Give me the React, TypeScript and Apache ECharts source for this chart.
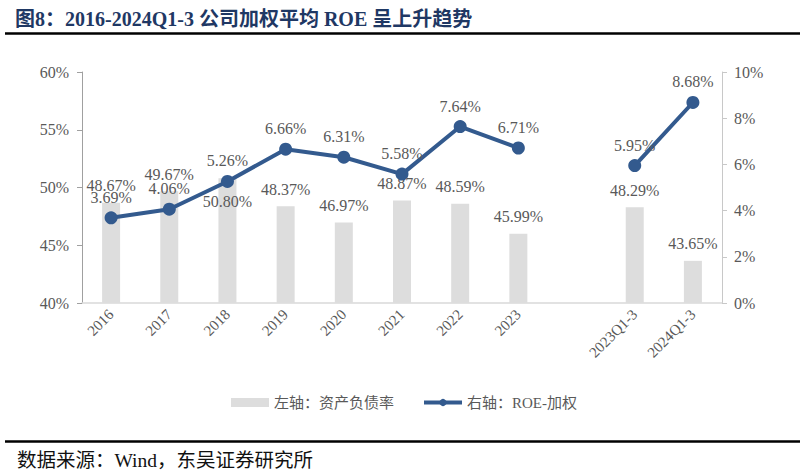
import React, { useEffect, useRef } from "react";
import * as echarts from "echarts";

const categories = ["2016", "2017", "2018", "2019", "2020", "2021", "2022", "2023", "", "2023Q1-3", "2024Q1-3"];
const debtRatio: (number | null)[] = [48.67, 49.67, 50.8, 48.37, 46.97, 48.87, 48.59, 45.99, null, 48.29, 43.65];
const roeWeighted: (number | null)[] = [3.69, 4.06, 5.26, 6.66, 6.31, 5.58, 7.64, 6.71, null, 5.95, 8.68];
const leftAxisRange = [40, 60, 5];
const rightAxisRange = [0, 10, 2];
const seriesNames = ["左轴：资产负债率", "右轴：ROE-加权"];
const titleText = "图8：2016-2024Q1-3 公司加权平均 ROE 呈上升趋势";
const sourceText = "数据来源：Wind，东吴证券研究所";

const SERIF = "'Liberation Serif', 'Times New Roman', 'Noto Sans CJK SC', serif";
const GRAY_TEXT = "#595959";
const BLUE = "#335A8E";
const BAR = "#DDDDDD";

export default function App() {
  const ref = useRef<HTMLDivElement>(null);
  useEffect(() => {
    if (!ref.current) return;
    const chart = echarts.init(ref.current, undefined, { renderer: "svg" });
    const barData = debtRatio.map((v, i) => {
      if (i === 2) {
        return { value: v, label: { position: "insideTop", distance: 15 } };
      }
      return v;
    });
    chart.setOption({
      animation: false,
      backgroundColor: "#ffffff",
      title: {
        text: titleText,
        left: 10,
        top: 4,
        textStyle: { fontFamily: SERIF, fontWeight: "bold", fontSize: 20, color: "#1F3864" },
      },
      graphic: [
        { type: "line", shape: { x1: 5, y1: 33.5, x2: 800, y2: 33.5 }, style: { stroke: "#000", lineWidth: 2.5 } },
        { type: "line", shape: { x1: 5, y1: 441.5, x2: 800, y2: 441.5 }, style: { stroke: "#000", lineWidth: 2.5 } },
        {
          type: "text",
          left: 17,
          top: 451,
          style: { text: sourceText, fontFamily: SERIF, fontSize: 19.5, fill: "#111" },
        },
      ],
      legend: {
        left: 226,
        top: 390,
        itemGap: 28,
        itemWidth: 38,
        itemHeight: 9,
        textStyle: { fontFamily: SERIF, fontSize: 15, color: GRAY_TEXT },
        data: [
          { name: seriesNames[0], icon: "rect" },
          { name: seriesNames[1], lineStyle: { width: 4, color: BLUE } },
        ],
      },
      grid: { left: 82, right: 83, top: 72, bottom: 172, containLabel: false },
      xAxis: {
        type: "category",
        data: categories,
        boundaryGap: true,
        axisLine: { lineStyle: { color: "#D9D9D9", width: 1.5 } },
        axisTick: { show: false },
        axisLabel: {
          rotate: 45,
          interval: 0,
          margin: 9,
          fontFamily: SERIF,
          fontSize: 15,
          color: GRAY_TEXT,
        },
      },
      yAxis: [
        {
          type: "value",
          min: leftAxisRange[0],
          max: leftAxisRange[1],
          interval: leftAxisRange[2],
          position: "left",
          splitLine: { show: false },
          axisLine: { show: true, lineStyle: { color: "#A0A0A0", width: 1 } },
          axisTick: { show: true, length: 5, lineStyle: { color: "#A0A0A0" } },
          axisLabel: { formatter: "{value}%", fontFamily: SERIF, fontSize: 16, color: GRAY_TEXT, margin: 13 },
        },
        {
          type: "value",
          min: rightAxisRange[0],
          max: rightAxisRange[1],
          interval: rightAxisRange[2],
          position: "right",
          splitLine: { show: false },
          axisLine: { show: true, lineStyle: { color: "#C8C8C8", width: 1 } },
          axisTick: { show: true, length: 5, lineStyle: { color: "#C8C8C8" } },
          axisLabel: { formatter: "{value}%", fontFamily: SERIF, fontSize: 16, color: GRAY_TEXT, margin: 12 },
        },
      ],
      series: [
        {
          name: seriesNames[0],
          type: "bar",
          yAxisIndex: 0,
          barWidth: 18,
          data: barData,
          itemStyle: { color: BAR },
          label: {
            show: true,
            position: "top",
            distance: 9,
            formatter: (p: any) => Number(p.value).toFixed(2) + "%",
            fontFamily: SERIF,
            fontSize: 16,
            color: GRAY_TEXT,
          },
          z: 1,
        },
        {
          name: seriesNames[1],
          type: "line",
          yAxisIndex: 1,
          data: roeWeighted,
          connectNulls: false,
          symbol: "circle",
          symbolSize: 13,
          lineStyle: { color: BLUE, width: 4 },
          itemStyle: { color: BLUE },
          label: {
            show: true,
            position: "top",
            distance: 6,
            formatter: (p: any) => Number(p.value).toFixed(2) + "%",
            fontFamily: SERIF,
            fontSize: 16,
            color: GRAY_TEXT,
          },
          z: 3,
        },
      ],
    });
    return () => chart.dispose();
  }, []);
  return (
    <div
      ref={ref}
      style={{ position: "fixed", left: 0, top: 0, width: 805, height: 475, background: "#fff" }}
    />
  );
}
